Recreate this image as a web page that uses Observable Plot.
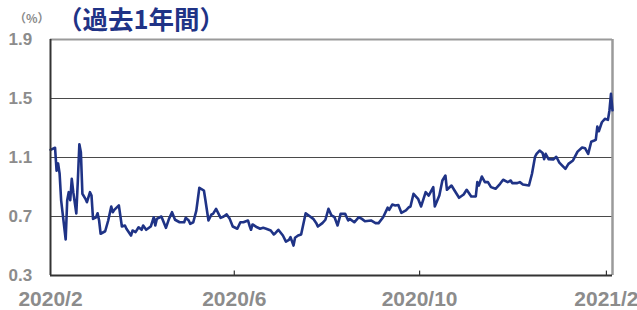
<!DOCTYPE html>
<html>
<head>
<meta charset="utf-8">
<script src="https://cdn.jsdelivr.net/npm/d3@7"></script>
<script src="https://cdn.jsdelivr.net/npm/@observablehq/plot@0.6"></script>
<style>
  html, body { margin: 0; padding: 0; background: #fff; }
  #wrap { position: relative; width: 637px; height: 310px; }
  #unit { position: absolute; left: 14px; top: 9px; font: bold 12px "Noto Sans CJK JP", "Liberation Sans", sans-serif; color: #8a8a8a; }
  #title { position: absolute; left: 57px; top: -1px; font: bold 25.5px "Noto Sans CJK JP", sans-serif; color: #1f3386; white-space: nowrap; }
  svg { position: absolute; left: 0; top: 0; }
</style>
</head>
<body>
<div id="wrap">
  <div id="chart"></div>
  <div id="unit">（%）</div>
  <div id="title">（過去1年間）</div>
</div>
<script>
const dates = [
"2020-02-01","2020-02-04","2020-02-05","2020-02-06","2020-02-07","2020-02-08","2020-02-11","2020-02-12","2020-02-13","2020-02-14",
"2020-02-15","2020-02-16","2020-02-18","2020-02-19","2020-02-20","2020-02-21","2020-02-22","2020-02-24","2020-02-25","2020-02-27",
"2020-02-28","2020-02-29","2020-03-02","2020-03-03","2020-03-04","2020-03-05","2020-03-08","2020-03-10","2020-03-12","2020-03-13",
"2020-03-14","2020-03-17","2020-03-19","2020-03-21","2020-03-22","2020-03-25","2020-03-26","2020-03-28","2020-03-30","2020-04-01",
"2020-04-02","2020-04-04","2020-04-07","2020-04-09","2020-04-10","2020-04-11","2020-04-14","2020-04-17","2020-04-19","2020-04-21",
"2020-04-23","2020-04-26","2020-04-29","2020-04-30","2020-05-02","2020-05-03","2020-05-05","2020-05-07","2020-05-09","2020-05-12",
"2020-05-13","2020-05-15","2020-05-17","2020-05-18","2020-05-20","2020-05-23","2020-05-25","2020-05-27","2020-05-29","2020-05-31",
"2020-06-03","2020-06-05","2020-06-07","2020-06-10","2020-06-11","2020-06-12","2020-06-13","2020-06-16","2020-06-18","2020-06-20",
"2020-06-22","2020-06-25","2020-06-27","2020-06-28","2020-06-30","2020-07-03","2020-07-05","2020-07-07","2020-07-08","2020-07-10",
"2020-07-11","2020-07-13","2020-07-15","2020-07-18","2020-07-20","2020-07-23","2020-07-25","2020-07-26","2020-07-29","2020-07-31",
"2020-08-02","2020-08-04","2020-08-06","2020-08-08","2020-08-10","2020-08-13","2020-08-15","2020-08-16","2020-08-19","2020-08-22",
"2020-08-24","2020-08-26","2020-08-30","2020-09-02","2020-09-04","2020-09-07","2020-09-10","2020-09-11","2020-09-13","2020-09-15",
"2020-09-17","2020-09-19","2020-09-22","2020-09-24","2020-09-25","2020-09-27","2020-09-30","2020-10-02","2020-10-05","2020-10-07",
"2020-10-10","2020-10-11","2020-10-14","2020-10-16","2020-10-18","2020-10-19","2020-10-22","2020-10-24","2020-10-27","2020-10-30",
"2020-11-01","2020-11-04","2020-11-07","2020-11-08","2020-11-09","2020-11-11","2020-11-13","2020-11-15","2020-11-17","2020-11-20",
"2020-11-23","2020-11-25","2020-11-28","2020-11-30","2020-12-01","2020-12-04","2020-12-06","2020-12-08","2020-12-12","2020-12-14",
"2020-12-16","2020-12-17","2020-12-19","2020-12-21","2020-12-22","2020-12-23","2020-12-25","2020-12-28","2020-12-30","2021-01-01",
"2021-01-05","2021-01-07","2021-01-10","2021-01-13","2021-01-16","2021-01-18","2021-01-20","2021-01-22","2021-01-24","2021-01-25",
"2021-01-26","2021-01-27","2021-01-29","2021-01-31","2021-02-02","2021-02-03","2021-02-04","2021-02-05"
];
const values = [
1.152,1.166,1.01,1.06,0.99,0.81,0.544,0.81,0.865,0.81,
0.955,0.865,0.72,0.944,1.19,1.136,0.854,0.82,0.797,0.865,
0.842,0.684,0.695,0.722,0.673,0.583,0.60,0.673,0.768,0.729,
0.745,0.775,0.632,0.639,0.617,0.571,0.605,0.594,0.627,0.61,
0.639,0.61,0.632,0.695,0.639,0.684,0.70,0.623,0.684,0.729,
0.678,0.661,0.661,0.691,0.673,0.65,0.661,0.74,0.895,0.876,
0.81,0.673,0.714,0.718,0.752,0.691,0.70,0.714,0.684,0.632,
0.617,0.661,0.661,0.673,0.639,0.61,0.646,0.627,0.617,0.623,
0.617,0.605,0.578,0.587,0.61,0.571,0.53,0.542,0.56,0.503,
0.556,0.571,0.578,0.722,0.707,0.684,0.655,0.632,0.655,0.678,
0.752,0.707,0.695,0.639,0.718,0.718,0.673,0.684,0.661,0.695,
0.684,0.668,0.673,0.655,0.655,0.695,0.76,0.745,0.781,0.775,
0.778,0.725,0.741,0.763,0.768,0.854,0.82,0.768,0.865,0.842,
0.899,0.768,0.842,0.944,0.978,0.881,0.91,0.876,0.827,0.849,
0.881,0.836,0.836,0.933,0.91,0.971,0.933,0.933,0.899,0.888,
0.922,0.949,0.933,0.944,0.926,0.926,0.933,0.917,0.91,0.99,
1.105,1.125,1.147,1.13,1.088,1.125,1.088,1.087,1.105,1.065,
1.023,1.057,1.08,1.14,1.168,1.162,1.125,1.207,1.215,1.22,
1.31,1.278,1.339,1.362,1.355,1.419,1.532,1.42
];
const yTicks = [0.3, 0.7, 1.1, 1.5, 1.9];
const yTickLabels = ["0.3", "0.7", "1.1", "1.5", "1.9"];
const xTickDates = ["2020-02-01", "2020-06-01", "2020-10-01", "2021-02-01"];
const xTickLabels = ["2020/2", "2020/6", "2020/10", "2021/2"];
const xDomain = ["2020-02-01", "2021-02-05"];

const parse = d3.utcParse("%Y-%m-%d");
const data = dates.map((d, i) => ({date: parse(d), value: values[i]}));
const xt = xTickDates.map(parse);
const dom = xDomain.map(parse);
const yl = yTicks.map((v, i) => ({v, label: yTickLabels[i]}));
const xl = xt.map((d, i) => ({d, label: xTickLabels[i]}));

const FONT = '"Liberation Sans", Arial, sans-serif';
const GRAY = "#8c8c8c";

const chart = Plot.plot({
  width: 637,
  height: 310,
  marginLeft: 50,
  marginRight: 25,
  marginTop: 39,
  marginBottom: 35,
  style: {fontFamily: FONT, background: "transparent", overflow: "visible"},
  x: {type: "utc", domain: dom, axis: null},
  y: {domain: [0.3, 1.9], axis: null},
  marks: [
    Plot.ruleY([0.7, 1.1, 1.5], {stroke: "#4a4a4a", strokeWidth: 1}),
    Plot.ruleY([1.9], {stroke: "#9a9a9a", strokeWidth: 2}),
    Plot.ruleX([dom[1]], {stroke: "#9a9a9a", strokeWidth: 2.5}),
    Plot.line(data, {x: "date", y: "value", stroke: "#1f3386", strokeWidth: 2.6, strokeLinejoin: "round"}),
    Plot.ruleY([0.3], {stroke: "#333", strokeWidth: 2}),
    Plot.ruleX([dom[0]], {stroke: "#333", strokeWidth: 2}),
    Plot.ruleX(xt.slice(1), {y1: 0.3, y2: 0.33, stroke: "#333", strokeWidth: 1.2}),
    Plot.text(yl, {y: "v", text: "label", frameAnchor: "left", dx: -42, textAnchor: "start", fill: GRAY, fontSize: 17, fontWeight: "bold"}),
    Plot.text(xl, {x: "d", text: "label", frameAnchor: "bottom", dy: 24, lineAnchor: "middle", textAnchor: "middle", fill: GRAY, fontSize: 21, fontWeight: "bold"})
  ]
});
document.getElementById("chart").appendChild(chart);
</script>
</body>
</html>
